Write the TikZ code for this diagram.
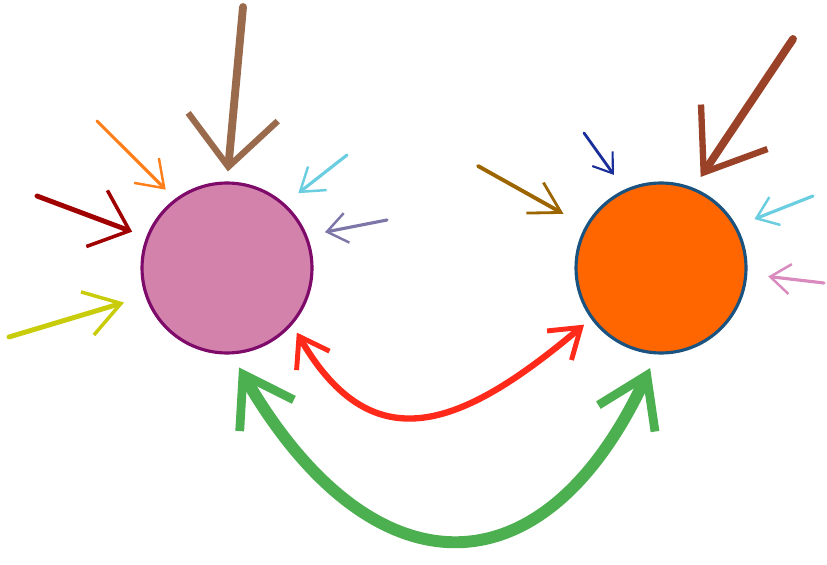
\documentclass[tikz,border=0pt]{standalone}
\usetikzlibrary{arrows.meta, positioning}
\definecolor{leftfill}{HTML}{D282AB}
\definecolor{leftline}{HTML}{7E0A6A}
\definecolor{rightfill}{HTML}{FF6600}
\definecolor{rightline}{HTML}{1A5280}
\definecolor{brownA}{HTML}{9A6A4C}
\definecolor{orangeA}{HTML}{FF7F1A}
\definecolor{darkredA}{HTML}{A00000}
\definecolor{limeA}{HTML}{C8CC0A}
\definecolor{cyanA}{HTML}{6ACDE0}
\definecolor{lavenderA}{HTML}{7C77A8}
\definecolor{goldA}{HTML}{9C6500}
\definecolor{navyA}{HTML}{1A2E99}
\definecolor{rustA}{HTML}{9A4228}
\definecolor{pinkA}{HTML}{D98ABE}
\definecolor{redA}{HTML}{FF2A1A}
\definecolor{greenA}{HTML}{4CAF50}

\begin{document}
\begin{tikzpicture}[x=0.02cm,y=-0.02cm,
  feed/.style={line cap=round, line join=round, -{Straight Barb[#1]}},
  twoway/.style={line cap=round, line join=round, {Straight Barb[#1]}-{Straight Barb[#1]}},
  ball/.style={circle, minimum size=3.4cm, inner sep=0pt, line width=1.8pt}]
\useasboundingbox (0,0) rectangle (827,564);

\node[ball, draw=leftline, fill=leftfill] (lc) at (227,268) {};
\node[ball, draw=rightline, fill=rightfill] (rc) at (661,268) {};

\coordinate (tbrown) at (243,7);
\coordinate (torange) at (97,121);
\coordinate (tdarkred) at (37,196);
\coordinate (tlime) at (9,337);
\coordinate (tcyanl) at (347,155);
\coordinate (tlavender) at (387,220);
\coordinate (tgold) at (478,166);
\coordinate (tnavy) at (584,133);
\coordinate (trust) at (793,39);
\coordinate (tcyanr) at (813,196);
\coordinate (tpink) at (824,283);

\draw[feed={length=10mm,width=18mm,line width=3.6pt}, brownA, line width=4.5pt, shorten >=2mm] (tbrown) -- (lc.90);
\draw[feed={length=5mm,width=7mm,line width=1.4pt}, orangeA, line width=1.8pt, shorten >=2.6mm] (torange) -- (lc.127);
\draw[feed={length=7mm,width=12mm,line width=2pt}, darkredA, line width=2.8pt, shorten >=3mm] (tdarkred) -- (lc.159);
\draw[feed={length=7mm,width=9mm,line width=2pt}, limeA, line width=2.8pt, shorten >=4.4mm] (tlime) -- (lc.199);
\draw[feed={length=4.4mm,width=6mm,line width=1.4pt}, cyanA, line width=1.8pt, shorten >=3.4mm] (tcyanl) -- (lc.48);
\draw[feed={length=4mm,width=6mm,line width=1.4pt}, lavenderA, line width=1.8pt, shorten >=3.6mm] (tlavender) -- (lc.22);

\draw[feed={length=6mm,width=7mm,line width=1.6pt}, goldA, line width=2.2pt, shorten >=5mm] (tgold) -- (rc.151);
\draw[feed={length=3.6mm,width=5mm,line width=1.2pt}, navyA, line width=1.6pt, shorten >=3.6mm] (tnavy) -- (rc.115);
\draw[feed={length=11mm,width=16mm,line width=3.6pt}, rustA, line width=4.5pt, shorten >=2.6mm] (trust) -- (rc.68);
\draw[feed={length=4mm,width=6mm,line width=1.4pt}, cyanA, line width=1.8pt, shorten >=3.8mm] (tcyanr) -- (rc.29);
\draw[feed={length=4mm,width=6mm,line width=1.4pt}, pinkA, line width=1.8pt, shorten >=4.2mm] (tpink) -- (rc.-4);

\draw[twoway={length=5.6mm,width=7.6mm,line width=2.8pt}, redA, line width=3.6pt, shorten <=1.8mm, shorten >=1.8mm]
    (lc.-41) to[out=-60,in=-140,looseness=1.4] (rc.-144);
\draw[twoway={length=9.5mm,width=12.5mm,line width=5pt}, greenA, line width=6.8pt, shorten <=3mm, shorten >=3mm]
    (lc.-87) to[out=-60,in=-115,looseness=1.65] (rc.-93);
\end{tikzpicture}
\end{document}
